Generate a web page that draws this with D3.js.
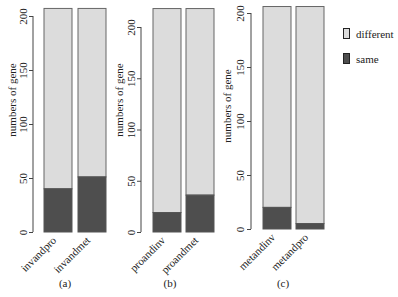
<!DOCTYPE html>
<html><head><meta charset="utf-8">
<script src="https://cdn.jsdelivr.net/npm/d3@7"></script>
<style>body{margin:0;background:#fff}svg{display:block}</style>
</head><body><svg id="c" width="398" height="297"></svg>
<script>
const panelLabels = ["(a)", "(b)", "(c)"];
const categoriesA = ["invandpro", "invandmet"];
const categoriesB = ["proandinv", "proandmet"];
const categoriesC = ["metandinv", "metandpro"];
const sameA = [40, 51], differentA = [167, 156];
const sameB = [19, 36], differentB = [199, 182];
const sameC = [20, 5], differentC = [186, 201];
const yTicks = [0, 50, 100, 150, 200];
const legendKeys = ["different", "same"];
const colors = {different: "#dcdcdc", same: "#4e4e4e"};
const FONT = "'Liberation Serif', 'Times New Roman', 'DejaVu Serif', serif";

const panels = [
  {label: panelLabels[0], cats: categoriesA, same: sameA, diff: differentA, ax: 33, y0: 232, y200: 16, bx: 44, bw: 28, gap: 6, lx: 12, ly: 100, tx: 23, px: 65},
  {label: panelLabels[1], cats: categoriesB, same: sameB, diff: differentB, ax: 141, y0: 232, y200: 27, bx: 153, bw: 28, gap: 5, lx: 119, ly: 100, tx: 131, px: 170},
  {label: panelLabels[2], cats: categoriesC, same: sameC, diff: differentC, ax: 251, y0: 229, y200: 13, bx: 263, bw: 28, gap: 5, lx: 227, ly: 106, tx: 240, px: 283}
];
const svg = d3.select("#c");

panels.forEach(p => {
  const g = svg.append("g");
  const y = d3.scaleLinear().domain([0, 200]).range([p.y0, p.y200]);
  const x = d3.scaleBand().domain(p.cats).range([p.bx, p.bx + 2 * p.bw + p.gap]).paddingInner(p.gap / (p.bw + p.gap)).paddingOuter(0);
  const axis = g.append("g").attr("transform", `translate(${p.ax},0)`)
    .call(d3.axisLeft(y).tickValues(yTicks).tickSize(4).tickFormat(d3.format("d")));
  axis.attr("font-family", FONT).attr("font-size", 11);
  axis.select(".domain").attr("stroke", "#444").attr("d", `M0,${y(0)}V${y(200)}`);
  axis.selectAll(".tick line").attr("stroke", "#444");
  axis.selectAll(".tick text")
    .attr("x", null).attr("y", null).attr("dy", null)
    .attr("transform", `translate(${p.tx - p.ax},0) rotate(-90)`)
    .attr("dy", "0.35em").attr("text-anchor", "middle").attr("fill", "#222");
  g.append("text").attr("transform", `translate(${p.lx},${p.ly}) rotate(-90)`)
    .attr("text-anchor", "middle").attr("dy", "0.35em").attr("font-size", 11).attr("font-family", FONT).attr("fill", "#222").text("numbers of gene");
  p.cats.forEach((c, i) => {
    const s = p.same[i], d = p.diff[i];
    g.append("rect").attr("x", x(c)).attr("width", x.bandwidth())
      .attr("y", y(s + d)).attr("height", y(s) - y(s + d))
      .attr("fill", colors.different).attr("stroke", "#666").attr("stroke-width", 1);
    g.append("rect").attr("x", x(c)).attr("width", x.bandwidth())
      .attr("y", y(s)).attr("height", y(0) - y(s))
      .attr("fill", colors.same).attr("stroke", "#555").attr("stroke-width", 1);
    g.append("text").attr("transform", `translate(${x(c) + x.bandwidth() / 2 - 1},${p.y0 + 9}) rotate(-45)`)
      .attr("text-anchor", "end").attr("font-size", 11).attr("font-family", FONT).attr("fill", "#222").text(c);
  });
  g.append("text").attr("x", p.px).attr("y", 287).attr("text-anchor", "middle").attr("font-size", 11).attr("font-family", FONT).attr("fill", "#222").text(p.label);
});

const lg = svg.append("g");
legendKeys.forEach((k, i) => {
  lg.append("rect").attr("x", 343.5).attr("y", 28.5 + i * 25).attr("width", 6).attr("height", 10)
    .attr("fill", colors[k]).attr("stroke", "#222").attr("stroke-width", 1);
  lg.append("text").attr("x", 356).attr("y", 34 + i * 25).attr("dy", "0.35em").attr("font-size", 11).attr("font-family", FONT).attr("fill", "#222").text(k);
});
</script></body></html>
